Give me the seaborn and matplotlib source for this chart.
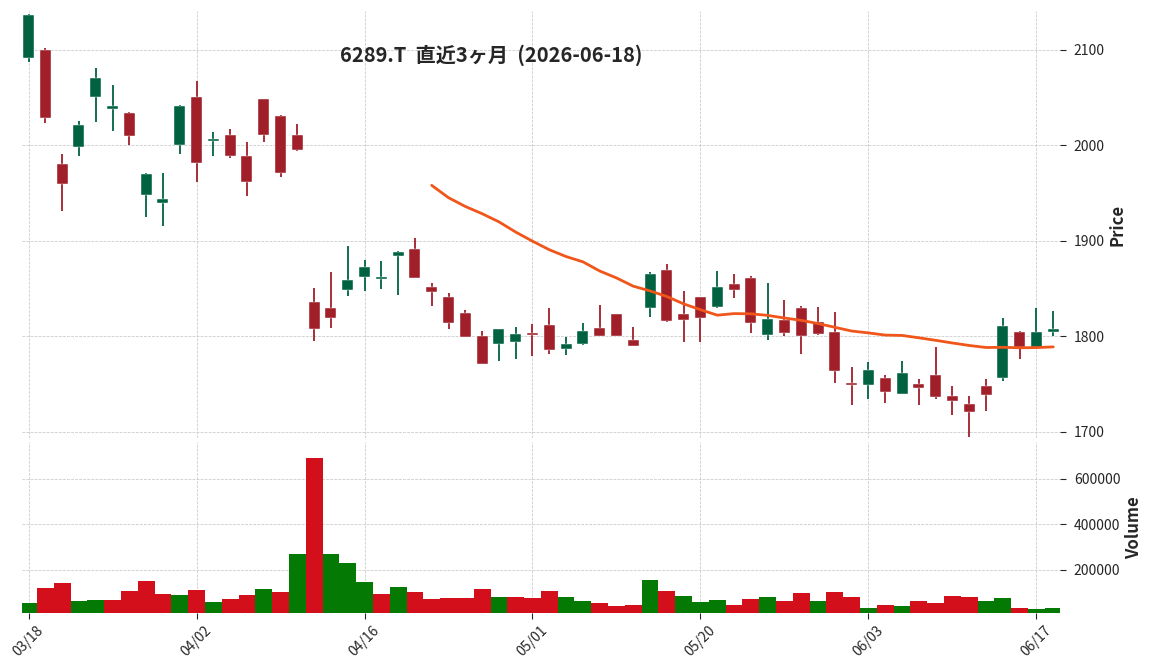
import numpy as np
import pandas as pd
import matplotlib
matplotlib.use("Agg")
import matplotlib.pyplot as plt
import seaborn as sns

# --- data ---
dates = ["03/18", "03/19", "03/23", "03/24", "03/25", "03/26", "03/27", "03/30", "03/31", "04/01",
         "04/02", "04/03", "04/06", "04/07", "04/08", "04/09", "04/10", "04/13", "04/14", "04/15",
         "04/16", "04/17", "04/20", "04/21", "04/22", "04/23", "04/24", "04/27", "04/28", "04/30",
         "05/01", "05/07", "05/08", "05/11", "05/12", "05/13", "05/14", "05/15", "05/18", "05/19",
         "05/20", "05/21", "05/22", "05/25", "05/26", "05/27", "05/28", "05/29", "06/01", "06/02",
         "06/03", "06/04", "06/05", "06/08", "06/09", "06/10", "06/11", "06/12", "06/15", "06/16",
         "06/17", "06/18"]

opens = [2092, 2100, 1981, 1998, 2051, 2038, 2034, 1948, 1940, 2000,
         2051, 2005, 2011, 1989, 2049, 2031, 2011, 1836, 1830, 1849,
         1862, 1860, 1884, 1892, 1852, 1841, 1825, 1800, 1792, 1794,
         1803, 1812, 1787, 1792, 1809, 1824, 1796, 1830, 1870, 1824,
         1841, 1831, 1855, 1861, 1802, 1817, 1830, 1815, 1805, 1751,
         1749, 1756, 1740, 1750, 1760, 1738, 1729, 1748, 1756, 1805,
         1789, 1805]
highs = [2138, 2102, 1991, 2026, 2081, 2063, 2035, 1971, 1971, 2042,
         2068, 2014, 2017, 2004, 2049, 2032, 2022, 1851, 1868, 1895,
         1880, 1879, 1890, 1903, 1856, 1845, 1828, 1806, 1808, 1810,
         1813, 1830, 1799, 1814, 1833, 1824, 1810, 1868, 1876, 1848,
         1841, 1869, 1865, 1863, 1856, 1838, 1832, 1831, 1826, 1768,
         1773, 1760, 1774, 1755, 1789, 1748, 1738, 1755, 1819, 1806,
         1830, 1827]
lows = [2087, 2023, 1931, 1989, 2025, 2015, 2000, 1925, 1916, 1991,
        1962, 1989, 1987, 1947, 2004, 1967, 1994, 1795, 1809, 1842,
        1848, 1850, 1843, 1861, 1832, 1808, 1799, 1771, 1774, 1776,
        1780, 1782, 1781, 1791, 1800, 1800, 1790, 1820, 1815, 1794,
        1794, 1830, 1840, 1804, 1796, 1800, 1782, 1802, 1751, 1728,
        1735, 1730, 1740, 1728, 1734, 1718, 1695, 1722, 1753, 1776,
        1789, 1800]
closes = [2137, 2029, 1960, 2021, 2071, 2041, 2010, 1970, 1944, 2041,
          1982, 2006, 1989, 1962, 2011, 1971, 1995, 1808, 1819, 1859,
          1873, 1861, 1888, 1861, 1847, 1814, 1799, 1771, 1808, 1803,
          1802, 1786, 1792, 1806, 1801, 1800, 1790, 1865, 1816, 1817,
          1819, 1852, 1849, 1814, 1818, 1804, 1800, 1803, 1764, 1749,
          1765, 1742, 1762, 1746, 1737, 1732, 1721, 1739, 1811, 1789,
          1805, 1808]
volumes = [53500, 118700, 140400, 62200, 66500, 66500, 105700, 149100, 92600, 88300,
           110000, 57800, 70900, 88300, 114400, 101300, 270900, 694000, 270900, 227400,
           144800, 92600, 123000, 101300, 70900, 75200, 75200, 114400, 79600, 79600,
           75200, 105700, 79600, 62200, 53500, 40400, 44800, 153500, 105700, 83900,
           57800, 66500, 44800, 70900, 79600, 62200, 97000, 62200, 101300, 79600,
           31700, 44800, 40400, 62200, 53500, 83900, 79600, 62200, 75200, 31700,
           27400, 31700]

title = "6289.T  直近3ヶ月  (2026-06-18)"

df = pd.DataFrame({"date": dates, "open": opens, "high": highs,
                   "low": lows, "close": closes, "volume": volumes})
df["idx"] = np.arange(len(df))
df["ma25"] = df["close"].rolling(25).mean()
df["up"] = df["close"] >= df["open"]
prev = df["close"].shift(1).fillna(df["close"])
df["vol_dir"] = np.where(df["close"] >= prev, "up", "down")

sns.set_theme(style="white")
plt.rcParams["font.family"] = ["Noto Sans CJK JP", "DejaVu Sans"]

UP, DOWN = "#006241", "#a01f29"
VUP, VDOWN = "#047a04", "#d30f1b"
GRID = dict(color="#c8c8c8", linestyle="--", linewidth=0.55)

fig = plt.figure(figsize=(11.52, 6.70), dpi=100)
ax = fig.add_axes([0.0191, 0.3463, 0.9010, 0.6373])
axv = fig.add_axes([0.0191, 0.0851, 0.9010, 0.2552], sharex=ax)

# candles (doji bodies get a minimum visible height)
ccol = np.where(df["up"], UP, DOWN)
ax.vlines(df["idx"], df["low"], df["high"], colors=ccol, linewidth=1.3, zorder=2)
body_lo = np.minimum(df["open"], df["close"])
body_h = np.maximum(np.abs(df["close"] - df["open"]), 2.0)
ax.bar(df["idx"], body_h, bottom=body_lo, width=0.65, color=ccol,
       edgecolor="white", linewidth=0.3, zorder=3)

# 25-day moving average
sns.lineplot(data=df, x="idx", y="ma25", color="#f0561a", linewidth=2.0, ax=ax, zorder=4)

ax.set_ylim(1693.7, 2140.8)
ax.set_xlim(-0.39, 61.4)
ax.set_yticks([1700, 1800, 1900, 2000, 2100])
ax.yaxis.tick_right()
ax.yaxis.set_label_position("right")
ax.set_ylabel("Price", fontsize=12, fontweight="bold")
ax.yaxis.set_label_coords(1.047, 0.5)
ax.set_xlabel("")
ax.tick_params(axis="y", right=True, length=4, width=0.8, labelsize=10, pad=6)
ax.tick_params(axis="x", bottom=False, labelbottom=False)
ax.grid(True, **GRID)
for s in ax.spines.values():
    s.set_visible(False)

# volume
sns.barplot(data=df, x="idx", y="volume", hue="vol_dir", palette={"up": VUP, "down": VDOWN},
            native_scale=True, width=1.0, saturation=1, dodge=False, legend=False,
            linewidth=0, ax=axv)
axv.set_xlim(-0.39, 61.4)
axv.set_ylim(0.3 * min(volumes), 1.1 * max(volumes))
axv.set_yticks([200000, 400000, 600000])
axv.set_yticklabels(["200000", "400000", "600000"])
axv.yaxis.tick_right()
axv.yaxis.set_label_position("right")
axv.set_ylabel("Volume", fontsize=12, fontweight="bold")
axv.yaxis.set_label_coords(1.063, 0.5)
tick_pos = list(range(0, len(dates), 10))
axv.set_xticks(tick_pos)
axv.set_xticklabels([dates[i] for i in tick_pos], rotation=45, fontsize=10)
axv.set_xlabel("")
axv.tick_params(axis="x", bottom=True, length=4, width=0.8, labelsize=10)
axv.tick_params(axis="y", right=True, length=4, width=0.8, labelsize=10, pad=6)
axv.grid(True, **GRID)
axv.set_axisbelow(True)
for s in axv.spines.values():
    s.set_visible(False)

ax.set_xticks(tick_pos)
ax.set_axisbelow(True)

fig.text(0.426, 0.918, title, ha="center", va="center", fontsize=14.5, fontweight="bold")

fig.savefig("out.png", dpi=100)
